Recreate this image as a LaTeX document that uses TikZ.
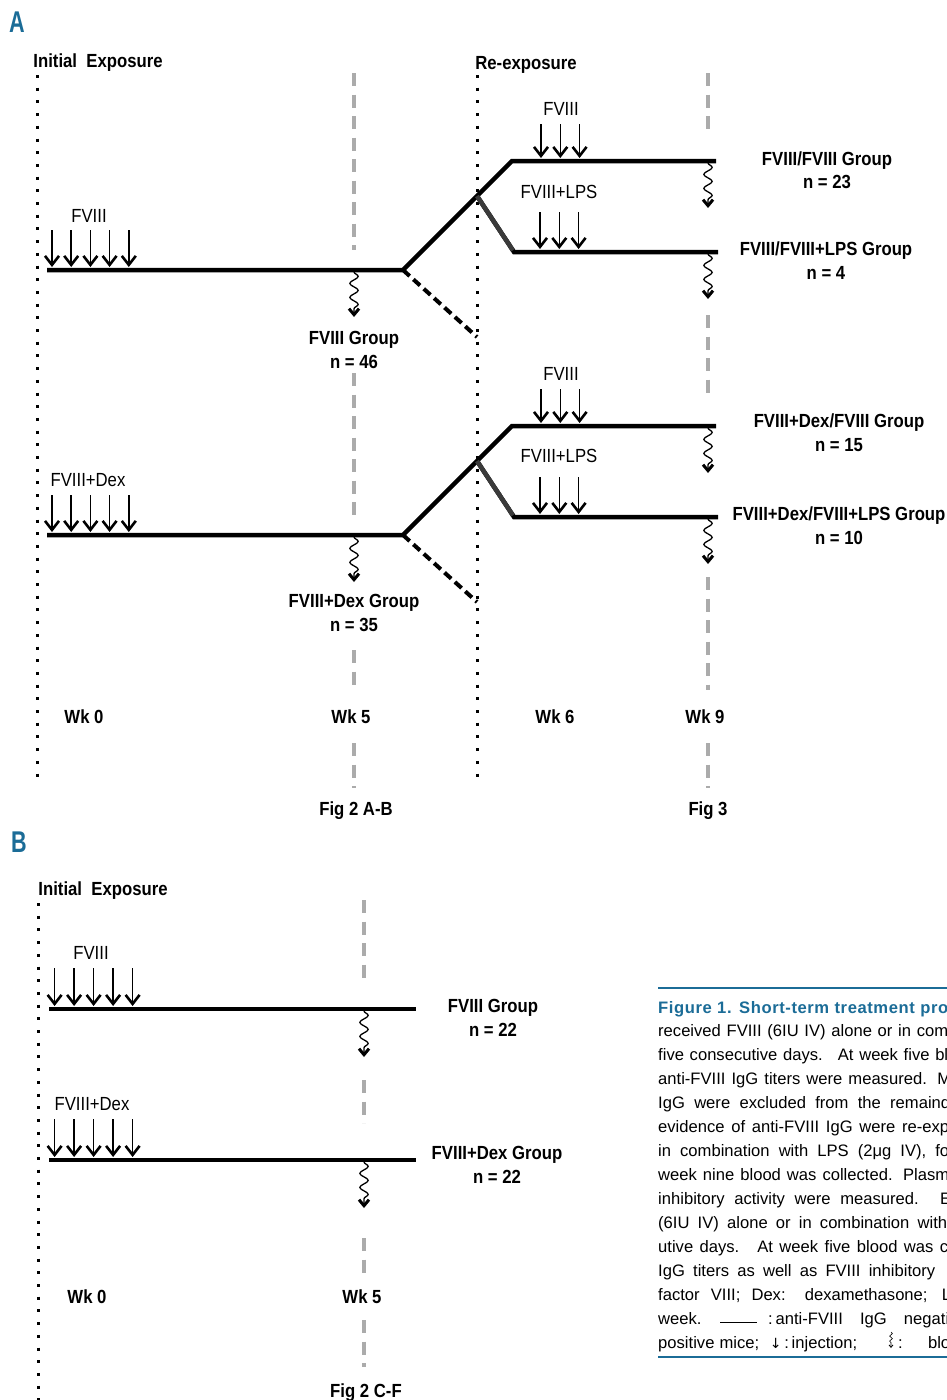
\documentclass[tikz,border=0pt]{standalone}
\usepackage{fontspec}
\usetikzlibrary{arrows.meta,decorations.pathmorphing}
\newfontfamily\narrowsf[FakeStretch=0.88]{Liberation Sans}
\newfontfamily\panelsf[FakeStretch=0.72]{Liberation Sans}
\newfontfamily\capsf{Liberation Sans}
\newfontfamily\symsf{DejaVu Sans}
\definecolor{figblue}{HTML}{1B6C97}
\definecolor{markgray}{HTML}{ABABAB}
\definecolor{lpsgray}{HTML}{3A3A3A}

\begin{document}
\begin{tikzpicture}[x=1pt,y=-1pt]
\tikzset{exposure/.style={line width=3pt, dash pattern=on 3pt off 9.7pt},
  weekmark/.style={markgray, line width=3.2pt, dash pattern=on 13pt off 8.5pt},
  timeline/.style={line width=4.5pt},
  negbranch/.style={line width=4pt, dash pattern=on 9pt off 5pt},
  inj/.style={line width=1.5pt, shorten >=3pt, -{Straight Barb[length=9pt,width=14pt,line width=2.6pt]}},
  bleed/.style={line width=1.3pt, decorate, decoration={snake, amplitude=4.2pt, segment length=14pt, post length=8pt}, -{Straight Barb[length=6pt,width=10pt,line width=3pt]}},
  druglab/.style={font=\narrowsf\fontsize{19}{22}\selectfont, inner sep=0pt, anchor=base},
  boldlab/.style={font=\narrowsf\bfseries\fontsize{19}{23.5}\selectfont, align=center, inner sep=0pt, anchor=base},
  grouplab/.style={font=\narrowsf\bfseries\fontsize{19}{23.5}\selectfont, align=center, inner sep=0pt},
  panellab/.style={font=\panelsf\bfseries\fontsize{30}{30}\selectfont, text=figblue, inner sep=0pt, anchor=base},
  capline/.style={font=\capsf\fontsize{16.6}{20}\selectfont, inner sep=0pt, anchor=base west}}
\useasboundingbox (0,0) rectangle (947,1400);

% ---- panel A
\node[panellab] (pA) at (17,32) {A};
\node[boldlab] (ieA) at (98,67) {Initial\ \ Exposure};
\node[boldlab] (reA) at (526,69) {Re-exposure};
\draw[exposure] (37,75) -- (37,786);
\draw[exposure] (477,75) -- (477,786);
\draw[weekmark] (354,73) -- (354,250);
\draw[weekmark] (354,373) -- (354,517);
\draw[weekmark] (354,650) -- (354,693);
\draw[weekmark] (354,743) -- (354,788);
\draw[weekmark] (708,73) -- (708,130);
\draw[weekmark] (708,315) -- (708,393);
\draw[weekmark] (708,577) -- (708,690);
\draw[weekmark] (708,743) -- (708,788);

% FVIII group
\coordinate (f0) at (47,270);
\coordinate (fb) at (403,270);
\coordinate (fu) at (512,161);
\coordinate (fue) at (716,161);
\coordinate (fj) at (477,196);
\coordinate (fl) at (514,252);
\coordinate (fle) at (718,252);
\coordinate (fn) at (477,337);
\draw[timeline] (f0) -- (fb) -- (fu) -- (fue);
\draw[timeline] (fj) -- (fl) -- (fle);
\draw[timeline, lpsgray, shorten >=2pt] (fj) -- (fl);
\draw[negbranch] (fb) -- (fn);
\node[druglab] (fdrug) at (89,222) {FVIII};
\foreach \i in {0,...,4} {
  \coordinate (fi\i) at (52+19.2*\i,230);
  \draw[inj] (fi\i) -- (fi\i |- f0);
}
\node[druglab] (fudrug) at (561,115) {FVIII};
\node[druglab] (fldrug) at (559,198) {FVIII+LPS};
\foreach \i in {0,1,2} {
  \coordinate (fr\i) at (541+19.3*\i,124);
  \draw[inj] (fr\i) -- (fr\i |- fu);
  \coordinate (fs\i) at (540+19.3*\i,212);
  \draw[inj] (fs\i) -- (fs\i |- fl);
}
\coordinate (fw5) at (354,272);
\coordinate (fw5e) at (354,317);
\draw[bleed] (fw5) -- (fw5e);
\coordinate (fw9) at (708,163);
\coordinate (fw9e) at (708,208);
\draw[bleed] (fw9) -- (fw9e);
\coordinate (fv9) at (708,254);
\coordinate (fv9e) at (708,299);
\draw[bleed] (fv9) -- (fv9e);
\node[grouplab] (gF) at (354,350) {FVIII Group\\n = 46};
\node[grouplab] (gFF) at (827,170) {FVIII/FVIII Group\\n = 23};
\node[grouplab] (gFL) at (826,260.5) {FVIII/FVIII+LPS Group\\n = 4};

% FVIII+Dex group
\coordinate (d0) at (47,535);
\coordinate (db) at (403,535);
\coordinate (du) at (512,426);
\coordinate (due) at (716,426);
\coordinate (dj) at (477,461);
\coordinate (dl) at (514,517);
\coordinate (dle) at (718,517);
\coordinate (dn) at (477,602);
\draw[timeline] (d0) -- (db) -- (du) -- (due);
\draw[timeline] (dj) -- (dl) -- (dle);
\draw[timeline, lpsgray, shorten >=2pt] (dj) -- (dl);
\draw[negbranch] (db) -- (dn);
\node[druglab] (ddrug) at (88,486) {FVIII+Dex};
\foreach \i in {0,...,4} {
  \coordinate (di\i) at (52+19.2*\i,495);
  \draw[inj] (di\i) -- (di\i |- d0);
}
\node[druglab] (dudrug) at (561,380) {FVIII};
\node[druglab] (dldrug) at (559,462) {FVIII+LPS};
\foreach \i in {0,1,2} {
  \coordinate (dr\i) at (541+19.3*\i,389);
  \draw[inj] (dr\i) -- (dr\i |- du);
  \coordinate (ds\i) at (540+19.3*\i,477);
  \draw[inj] (ds\i) -- (ds\i |- dl);
}
\coordinate (dw5) at (354,537);
\coordinate (dw5e) at (354,582);
\draw[bleed] (dw5) -- (dw5e);
\coordinate (dw9) at (708,428);
\coordinate (dw9e) at (708,473);
\draw[bleed] (dw9) -- (dw9e);
\coordinate (dv9) at (708,519);
\coordinate (dv9e) at (708,564);
\draw[bleed] (dv9) -- (dv9e);
\node[grouplab] (gD) at (354,613) {FVIII+Dex Group\\n = 35};
\node[grouplab] (gDF) at (839,432.5) {FVIII+Dex/FVIII Group\\n = 15};
\node[grouplab] (gDL) at (839,525.5) {FVIII+Dex/FVIII+LPS Group\\n = 10};

\node[boldlab] (wA0) at (84,723) {Wk 0};
\node[boldlab] (wA5) at (351,723) {Wk 5};
\node[boldlab] (wA6) at (555,723) {Wk 6};
\node[boldlab] (wA9) at (705,723) {Wk 9};
\node[boldlab] (figAB) at (356,815) {Fig 2 A-B};
\node[boldlab] (figC) at (708,815) {Fig 3};

% ---- panel B
\node[panellab] (pB) at (19,852) {B};
\node[boldlab] (ieB) at (103,895) {Initial\ \ Exposure};
\draw[exposure] (38,903) -- (38,1400);
\draw[weekmark] (364,900) -- (364,985);
\draw[weekmark] (364,1080) -- (364,1123);
\draw[weekmark] (364,1238) -- (364,1275);
\draw[weekmark] (364,1320) -- (364,1367);
\coordinate (b1s) at (49,1009);
\coordinate (b1e) at (416,1009);
\coordinate (b2s) at (49,1160);
\coordinate (b2e) at (416,1160);
\draw[timeline] (b1s) -- (b1e);
\draw[timeline] (b2s) -- (b2e);
\node[druglab] (bdrug1) at (91,959) {FVIII};
\node[druglab] (bdrug2) at (92,1110) {FVIII+Dex};
\foreach \i in {0,...,4} {
  \coordinate (bi\i) at (54.6+19.5*\i,968);
  \draw[inj] (bi\i) -- (bi\i |- b1s);
  \coordinate (bj\i) at (54.6+19.5*\i,1119);
  \draw[inj] (bj\i) -- (bj\i |- b2s);
}
\coordinate (bw1) at (364,1011);
\coordinate (bw1e) at (364,1057);
\draw[bleed] (bw1) -- (bw1e);
\coordinate (bw2) at (364,1162);
\coordinate (bw2e) at (364,1208);
\draw[bleed] (bw2) -- (bw2e);
\node[grouplab] (gB1) at (493,1018) {FVIII Group\\n = 22};
\node[grouplab] (gB2) at (497,1165) {FVIII+Dex Group\\n = 22};
\node[boldlab] (wB0) at (87,1303) {Wk 0};
\node[boldlab] (wB5) at (362,1303) {Wk 5};
\node[boldlab] (figCF) at (366,1397) {Fig 2 C-F};

% ---- caption (cut at the right edge)
\begin{scope}
\clip (650,980) rectangle (947,1400);
\coordinate (capTL) at (658,988);
\coordinate (capTR) at (947,988);
\coordinate (capBL) at (658,1357);
\coordinate (capBR) at (947,1357);
\draw[figblue, line width=2.2pt] (capTL) -- (capTR);
\draw[figblue, line width=2.2pt] (capBL) -- (capBR);
\node[capline, text=figblue, font=\capsf\bfseries\fontsize{16.6}{20}\selectfont\addfontfeatures{LetterSpace=3.5}] (cap1) at (658,1013) {\makebox[290pt][s]{Figure 1. Short-term treatment pro}};
\node[capline] (cap2) at (658,1036.9) {\makebox[290pt][s]{received FVIII (6IU IV) alone or in com}};
\node[capline] (cap3) at (658,1060.9) {\makebox[290pt][s]{five consecutive days. \ At week five bl}};
\node[capline] (cap4) at (658,1084.8) {\makebox[293pt][s]{anti-FVIII IgG titers were measured. M}};
\node[capline] (cap5) at (658,1108.7) {\makebox[292pt][s]{IgG were excluded from the remaind}};
\node[capline] (cap6) at (658,1132.7) {\makebox[291pt][s]{evidence of anti-FVIII IgG were re-exp}};
\node[capline] (cap7) at (658,1156.6) {\makebox[291pt][s]{in combination with LPS (2μg IV), fo}};
\node[capline] (cap8) at (658,1180.5) {\makebox[291pt][s]{week nine blood was collected. Plasm}};
\node[capline] (cap9) at (658,1204.4) {\makebox[293pt][s]{inhibitory activity were measured. E}};
\node[capline] (cap10) at (658,1228.4) {\makebox[289pt][s]{(6IU IV) alone or in combination with}};
\node[capline] (cap11) at (658,1252.3) {\makebox[290pt][s]{utive days. \ At week five blood was c}};
\node[capline] (cap12) at (658,1276.2) {\makebox[277pt][s]{IgG titers as well as FVIII inhibitory}};
\node[capline] (cap13) at (658,1300.2) {\makebox[293pt][s]{factor VIII; Dex: dexamethasone; L}};
\node[capline] (cap14) at (658,1324.1) {week.};
\coordinate (rulel) at (720,1322.5);
\coordinate (ruler) at (757,1322.5);
\draw[line width=1.6pt] (rulel) -- (ruler);
\node[capline] (cap14b) at (768,1324.1) {\makebox[181pt][s]{:\,anti-FVIII IgG negati}};
\node[capline] (cap15) at (658,1348) {\makebox[199pt][s]{positive mice; \ {\symsf\fontsize{14}{14}\selectfont ↓}\,:\,injection;}};
\coordinate (sq) at (891,1332);
\coordinate (sqe) at (891,1348);
\draw[line width=0.6pt, decorate, decoration={snake, amplitude=1.4pt, segment length=5pt, post length=3pt}, -{Straight Barb[length=2.5pt,width=4pt,line width=0.8pt]}] (sq) -- (sqe);
\node[capline] (cap15b) at (898,1348) {\makebox[52pt][s]{: \ blo}};
\end{scope}
\end{tikzpicture}
\end{document}
